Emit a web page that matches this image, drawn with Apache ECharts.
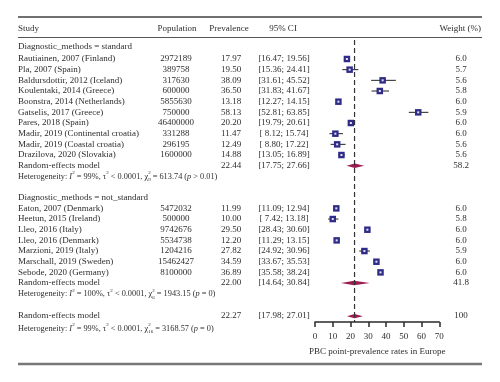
<!DOCTYPE html>
<html><head><meta charset="utf-8">
<script src="https://cdn.jsdelivr.net/npm/echarts@6/dist/echarts.min.js"></script>
<style>html,body{margin:0;padding:0;background:#fff}#c{width:500px;height:382px}</style>
</head><body><div id="c"></div>
<script>
// ---- data ----
const groupLabels = ['Diagnostic_methods = standard', 'Diagnostic_methods = not_standard'];
const studies1 = ['Rautiainen, 2007 (Finland)', 'Pla, 2007 (Spain)', 'Baldursdottir, 2012 (Iceland)', 'Koulentaki, 2014 (Greece)', 'Boonstra, 2014 (Netherlands)', 'Gatselis, 2017 (Greece)', 'Pares, 2018 (Spain)', 'Madir, 2019 (Continental croatia)', 'Madir, 2019 (Coastal croatia)', 'Drazilova, 2020 (Slovakia)'];
const population1 = [2972189, 389758, 317630, 600000, 5855630, 750000, 46400000, 331288, 296195, 1600000];
const prevalence1 = [17.97, 19.50, 38.09, 36.50, 13.18, 58.13, 20.20, 11.47, 12.49, 14.88];
const ciLow1 = [16.47, 15.36, 31.61, 31.83, 12.27, 52.81, 19.79, 8.12, 8.80, 13.05];
const ciHigh1 = [19.56, 24.41, 45.52, 41.67, 14.15, 63.85, 20.61, 15.74, 17.22, 16.89];
const weight1 = [6.0, 5.7, 5.6, 5.8, 6.0, 5.9, 6.0, 6.0, 5.6, 5.6];

const studies2 = ['Eaton, 2007 (Denmark)', 'Heetun, 2015 (Ireland)', 'Lleo, 2016 (Italy)', 'Lleo, 2016 (Denmark)', 'Marzioni, 2019 (Italy)', 'Marschall, 2019 (Sweden)', 'Sebode, 2020 (Germany)'];
const population2 = [5472032, 500000, 9742676, 5534738, 1204216, 15462427, 8100000];
const prevalence2 = [11.99, 10.00, 29.50, 12.20, 27.82, 34.59, 36.89];
const ciLow2 = [11.09, 7.42, 28.43, 11.29, 24.92, 33.67, 35.58];
const ciHigh2 = [12.94, 13.18, 30.60, 13.15, 30.96, 35.53, 38.24];
const weight2 = [6.0, 5.8, 6.0, 6.0, 5.9, 6.0, 6.0];

// pooled: subgroup standard, subgroup not_standard, overall
const pooledEst = [22.44, 22.00, 22.27];
const pooledLow = [17.75, 14.64, 17.98];
const pooledHigh = [27.66, 30.84, 27.01];
const pooledWeight = [58.2, 41.8, 100];
const hetI2 = [99, 100, 99];
const hetChi = [613.74, 1943.15, 3168.57];
const hetDf = [9, 6, 16];
const hetP = ['> 0.01', '= 0', '= 0'];

const xTicks = [0, 10, 20, 30, 40, 50, 60, 70];
const headers = ['Study', 'Population', 'Prevalence', '95% CI', 'Weight (%)'];
const axisTitle = 'PBC point-prevalence rates in Europe';

// ---- row layout (row index on the y scale) ----
const FONT = '"Liberation Serif","DejaVu Serif","Times New Roman",serif';
const rows = [];
rows.push({row: -2.81, kind: 'header'});
rows.push({row: -1.2, kind: 'group', name: groupLabels[0]});
studies1.forEach((s, i) => rows.push({row: i, kind: 'study', name: s, pop: population1[i], prev: prevalence1[i], lo: ciLow1[i], hi: ciHigh1[i], w: weight1[i]}));
rows.push({row: 10, kind: 'pooled', name: 'Random-effects model', prev: pooledEst[0], lo: pooledLow[0], hi: pooledHigh[0], w: pooledWeight[0]});
rows.push({row: 11, kind: 'het', h: 0});
rows.push({row: 13, kind: 'group', name: groupLabels[1]});
studies2.forEach((s, i) => rows.push({row: 14 + i, kind: 'study', name: s, pop: population2[i], prev: prevalence2[i], lo: ciLow2[i], hi: ciHigh2[i], w: weight2[i]}));
rows.push({row: 21, kind: 'pooled', name: 'Random-effects model', prev: pooledEst[1], lo: pooledLow[1], hi: pooledHigh[1], w: pooledWeight[1]});
rows.push({row: 22, kind: 'het', h: 1});
rows.push({row: 24.1, kind: 'pooled', name: 'Random-effects model', prev: pooledEst[2], lo: pooledLow[2], hi: pooledHigh[2], w: pooledWeight[2]});
rows.push({row: 25.25, kind: 'het', h: 2});

const fmtCI = (lo, hi) => '[' + (lo < 10 ? ' ' : '') + lo.toFixed(2) + '; ' + hi.toFixed(2) + ']';
const fmtW = w => (w === 100 ? '100' : w.toFixed(1));

const COL = {study: 18, pop: 176, prev: 231, ci: 284, w: 461};
const TXT = '#2e2e2e';

function T(x, y, text, align, extra) {
  return {type: 'text', x: x, y: y, style: Object.assign({text: text, fill: TXT, fontSize: 9, fontFamily: FONT, align: align, verticalAlign: 'middle'}, extra || {})};
}

const HF = 8.3;
const richStyles = {
  n: {fontSize: HF, fontFamily: FONT, fill: TXT, lineHeight: 12},
  i: {fontStyle: 'italic', fontSize: HF, fontFamily: FONT, fill: TXT, lineHeight: 12},
  sup: {fontSize: 5, fontFamily: FONT, fill: TXT, verticalAlign: 'top', lineHeight: 12},
  sup0: {fontSize: 5, fontFamily: FONT, fill: TXT, verticalAlign: 'top', lineHeight: 12, width: 0.01},
  sub: {fontSize: 5, fontFamily: FONT, fill: TXT, verticalAlign: 'bottom', lineHeight: 12}
};

function textRender(params, api) {
  const r = rows[params.dataIndex];
  const y = api.coord([0, api.value(1)])[1];
  const ch = [];
  if (r.kind === 'header') {
    ch.push(T(COL.study, y, headers[0], 'left'));
    ch.push(T(177, y, headers[1], 'center'));
    ch.push(T(229, y, headers[2], 'center'));
    ch.push(T(283, y, headers[3], 'center'));
    ch.push(T(481, y, headers[4], 'right'));
  } else if (r.kind === 'group') {
    ch.push(T(COL.study, y, r.name, 'left'));
  } else if (r.kind === 'study' || r.kind === 'pooled') {
    ch.push(T(COL.study, y, r.name, 'left'));
    if (r.pop != null) ch.push(T(COL.pop, y, String(r.pop), 'center'));
    ch.push(T(COL.prev, y, r.prev.toFixed(2), 'center'));
    ch.push(T(COL.ci, y, fmtCI(r.lo, r.hi), 'center'));
    ch.push(T(COL.w, y, fmtW(r.w), 'center'));
  } else if (r.kind === 'het') {
    const h = r.h;
    const txt = '{n|Heterogeneity: }{i|I}{sup|2}{n| = ' + hetI2[h] + '%, τ}{sup|2}{n| < 0.0001, χ}{sup0|2}{sub|' + hetDf[h] + '}{n| = ' + hetChi[h].toFixed(2) + ' (}{i|p}{n| ' + hetP[h] + ')}';
    ch.push({type: 'text', x: COL.study, y: y, style: {text: txt, rich: richStyles, align: 'left', verticalAlign: 'middle', fontSize: HF, fontFamily: FONT, fill: TXT}});
  }
  return {type: 'group', children: ch};
}

const studyRows = rows.filter(r => r.kind === 'study');
const pooledRows = rows.filter(r => r.kind === 'pooled');

const option = {
  animation: false,
  backgroundColor: '#fff',
  grid: {left: 315, width: 124.3, top: 40, bottom: 60, containLabel: false},
  xAxis: {
    type: 'value', min: 0, max: 70, interval: 10,
    splitLine: {show: false},
    axisLine: {show: true, onZero: false, lineStyle: {color: '#2a2a2a', width: 1.5}},
    axisTick: {show: true, inside: false, length: 5, lineStyle: {color: '#2a2a2a', width: 1.5}},
    axisLabel: {color: TXT, fontSize: 9, fontFamily: FONT, margin: 10, formatter: v => String(v)},
    name: axisTitle, nameLocation: 'middle', nameGap: 25,
    nameTextStyle: {color: TXT, fontSize: 9, fontFamily: FONT}
  },
  yAxis: {type: 'value', inverse: true, min: -1.78, max: 24.65, show: false, splitLine: {show: false}},
  graphic: [
    {type: 'line', shape: {x1: 18, y1: 17, x2: 482, y2: 17}, style: {stroke: '#707070', lineWidth: 2}},
    {type: 'line', shape: {x1: 18, y1: 37.5, x2: 482, y2: 37.5}, style: {stroke: '#555', lineWidth: 1}},
    {type: 'line', shape: {x1: 18, y1: 364, x2: 482, y2: 364}, style: {stroke: '#777', lineWidth: 2.5}}
  ],
  series: [
    {
      type: 'custom', name: 'text', silent: true, clip: false,
      data: rows.map(r => [0, r.row]),
      renderItem: textRender, z: 5
    },
    {
      type: 'custom', name: 'ci', silent: true,
      data: studyRows.map(r => [r.lo, r.hi, r.row]),
      encode: {x: [0, 1], y: 2},
      renderItem: (p, api) => {
        const a = api.coord([api.value(0), api.value(2)]);
        const b = api.coord([api.value(1), api.value(2)]);
        return {type: 'line', shape: {x1: a[0], y1: a[1], x2: b[0], y2: b[1]}, style: {stroke: '#222', lineWidth: 1}};
      }, z: 2
    },
    {
      type: 'scatter', name: 'studies', silent: true,
      data: studyRows.map(r => [r.prev, r.row]),
      symbol: 'rect', symbolSize: 6.5,
      itemStyle: {color: '#2f2b88', opacity: 1}, z: 3
    },
    {
      type: 'scatter', name: 'centers', silent: true,
      data: studyRows.map(r => [r.prev, r.row]),
      symbol: 'rect', symbolSize: 2,
      itemStyle: {color: '#e4e4f2', opacity: 1}, z: 4
    },
    {
      type: 'custom', name: 'diamonds', silent: true, clip: false,
      data: pooledRows.map(r => [r.lo, r.prev, r.hi, r.row]),
      encode: {x: [0, 1, 2], y: 3},
      renderItem: (p, api) => {
        const row = api.value(3);
        const l = api.coord([api.value(0), row]);
        const m = api.coord([api.value(1), row]);
        const h = api.coord([api.value(2), row]);
        const d = 2.2;
        return {type: 'polygon', shape: {points: [[l[0], l[1]], [m[0], m[1] - d], [h[0], h[1]], [m[0], m[1] + d]]}, style: {fill: '#9c1d52'}};
      }, z: 3
    },
    {
      type: 'line', name: 'overall', silent: true, symbol: 'none',
      data: [[pooledEst[2], -1.78], [pooledEst[2], 24.65]],
      lineStyle: {color: '#333', width: 1.2, type: [5, 3]}, z: 6
    }
  ]
};

const chart = echarts.init(document.getElementById('c'), null, {renderer: 'canvas'});
chart.setOption(option);
</script></body></html>
